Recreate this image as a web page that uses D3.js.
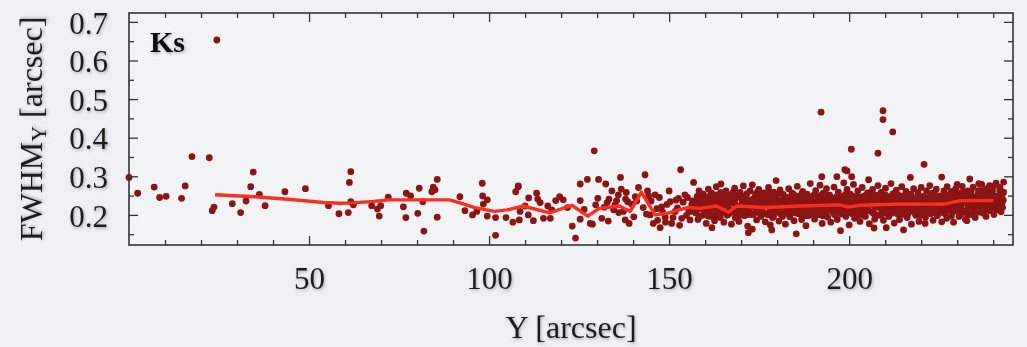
<!DOCTYPE html>
<html>
<head>
<meta charset="utf-8">
<script src="https://cdn.jsdelivr.net/npm/d3@7"></script>
<style>
  html, body { margin: 0; padding: 0; background: #eff0f3; }
  svg { display: block; font-family: "Liberation Serif", "Times New Roman", serif; }
</style>
</head>
<body>
<svg id="chart" width="1027" height="347"></svg>
<script>
// sparse points, Y < 108 arcsec
const sparsePoints = [
  [0, .297], [2.4, .256], [7.0, .272], [8.5, .245], [10.3, .248], [14.6, .243], [15.6, .275],
  [17.5, .351], [22.3, .348], [23.1, .211], [23.6, .220], [24.4, .653], [28.7, .229], [31.0, .206],
  [32.5, .236], [33.8, .273], [34.5, .311], [36.2, .253], [37.8, .224], [43.3, .260], [49.0, .268],
  [55.4, .224], [58.3, .203], [60.9, .206], [61.2, .284], [61.6, .312], [61.6, .234], [62.3, .226],
  [67.4, .224], [69.0, .215], [69.5, .197], [69.9, .224], [72.0, .246], [76.2, .221], [76.9, .193],
  [77.0, .256], [78.2, .249], [80.2, .204], [80.6, .269], [81.9, .158], [81.6, .234], [84.1, .260],
  [84.5, .272], [85.0, .265], [85.6, .292], [85.6, .194], [91.9, .247], [93.3, .211], [95.4, .200],
  [96.6, .209], [98.1, .282], [98.2, .249], [98.4, .228], [99.5, .239], [99.5, .197], [101.8, .193],
  [101.8, .147], [104.7, .193], [106.6, .181], [107.4, .260], [108.1, .273], [108.4, .187]
];

// medium density, 108 - 157 arcsec
const midPoints = [
  [108.1, .275], [110.0, .223], [108.6, .209], [110.9, .200], [112.3, .185], [113.2, .256], [113.5, .241],
  [115.1, .191], [116.3, .223], [117.4, .213], [118.5, .237], [120.6, .239], [123.1, .171], [124.0, .140],
  [125.3, .280], [125.3, .237], [125.3, .189], [127.3, .292], [129.2, .366], [128.1, .178], [128.7, .176],
  [130.4, .292], [130.2, .243], [131.3, .191], [132.4, .280], [132.0, .220], [133.1, .184], [134.1, .262],
  [133.3, .241], [135.0, .226], [135.9, .252], [136.5, .297], [136.7, .267], [137.3, .209], [137.8, .187],
  [138.5, .234], [138.9, .178], [140.6, .247], [141.5, .271], [143.3, .304], [144.3, .249], [144.7, .200],
  [145.6, .178], [146.1, .252], [147.5, .167], [147.9, .221], [148.9, .194], [150.3, .234], [150.7, .178],
  [151.7, .209], [152.6, .243], [153.2, .317], [153.5, .191], [154.4, .252], [155.4, .213], [156.3, .226],
  [156.8, .284], [155.8, .187], [132.8, .232], [134.6, .213], [136.0, .206], [137.9, .241], [139.6, .228],
  [140.2, .195], [141.0, .236], [142.8, .219], [143.7, .202], [145.0, .236], [146.6, .216], [147.3, .245],
  [148.2, .207], [149.4, .227], [150.0, .262], [151.1, .193], [151.9, .238], [152.3, .218], [153.9, .233],
  [154.8, .199], [155.1, .245], [156.0, .209], [156.5, .236], [144.0, .262], [146.8, .186], [149.0, .181],
  [152.9, .173], [138.1, .258], [135.4, .237], [129.6, .226], [126.4, .214], [121.8, .219], [119.6, .247],
  [114.2, .232], [111.0, .244], [117.0, .191]
];

// dense band, 157 - 243 arcsec
const densePoints = [
  [157.1, .231], [157.4, .205], [157.8, .248], [158.0, .188], [158.3, .262], [158.5, .219], [158.9, .236], [159.2, .199], [159.5, .254], [159.8, .212],
  [160.1, .243], [160.3, .178], [160.6, .226], [160.9, .267], [161.2, .208], [161.4, .238], [161.9, .167], [161.7, .196], [162.0, .252], [162.3, .221],
  [162.6, .185], [162.9, .241], [163.1, .273], [163.4, .214], [163.7, .197], [164.0, .233], [164.4, .280], [164.3, .258], [164.7, .206], [165.0, .244],
  [165.2, .181], [165.5, .227], [165.8, .262], [166.1, .199], [166.4, .238], [166.7, .215], [167.0, .251], [167.3, .176], [167.6, .231], [167.9, .207],
  [168.2, .269], [168.4, .192], [168.8, .245], [169.1, .222], [169.4, .183], [169.7, .258], [170.0, .211], [170.3, .236], [170.6, .275], [170.9, .198],
  [171.2, .249], [171.5, .226], [171.8, .171], [172.0, .154], [172.2, .214], [172.5, .262], [172.8, .239], [173.1, .163], [173.1, .278], [173.4, .202],
  [173.7, .228], [174.0, .254], [174.3, .187], [174.6, .218], [174.9, .266], [175.2, .241], [175.5, .196], [175.8, .231], [176.1, .207], [176.4, .257],
  [176.7, .182], [177.0, .224], [177.3, .248], [177.6, .271], [177.9, .209], [178.1, .174], [178.3, .236], [178.5, .161], [178.7, .193], [179.0, .259],
  [179.3, .216], [179.7, .289], [179.9, .243], [180.2, .228], [180.5, .184], [180.8, .265], [181.1, .201], [181.4, .237], [181.7, .253], [182.0, .212],
  [182.3, .176], [182.6, .246], [182.9, .224], [183.2, .268], [183.5, .195], [183.8, .232], [184.1, .257], [184.4, .207], [184.7, .185], [185.0, .240],
  [185.3, .151], [185.3, .219], [185.6, .274], [185.9, .203], [186.2, .249], [186.5, .229], [186.8, .188], [187.1, .261], [187.4, .215], [187.7, .238],
  [188.0, .172], [188.3, .254], [188.6, .198], [188.9, .226], [189.2, .281], [189.5, .244], [189.8, .209], [190.1, .235], [190.4, .189], [190.7, .263],
  [191.0, .218], [191.3, .247], [191.6, .201], [191.9, .277], [192.2, .466], [192.4, .299], [192.2, .230], [192.5, .178], [192.8, .256], [193.1, .212],
  [193.4, .239], [193.7, .268], [194.0, .194], [194.3, .224], [194.6, .251], [194.9, .181], [195.2, .234], [195.5, .207], [195.8, .272], [196.1, .243],
  [196.4, .216], [196.6, .299], [196.7, .188], [197.0, .259], [197.3, .229], [197.6, .159], [197.9, .202], [198.2, .248], [198.5, .283], [198.8, .317],
  [198.8, .221], [199.1, .196], [199.4, .314], [199.4, .266], [199.7, .237], [200.0, .174], [200.3, .254], [200.6, .370], [200.7, .299], [200.6, .211],
  [200.9, .232], [201.2, .279], [201.5, .191], [201.8, .245], [202.1, .223], [202.4, .262], [202.7, .205], [203.0, .183], [203.3, .238], [203.6, .271],
  [203.9, .214], [204.2, .249], [204.5, .196], [204.8, .229], [205.1, .257], [205.4, .291], [205.6, .177], [205.9, .241], [206.2, .208], [206.5, .266],
  [206.8, .225], [206.9, .166], [207.1, .189], [207.4, .251], [207.7, .234], [208.0, .360], [208.0, .276], [208.3, .199], [208.6, .218], [208.9, .258],
  [209.4, .470], [209.4, .447], [209.2, .243], [209.5, .186], [209.8, .228], [210.1, .269], [210.3, .167], [210.4, .211], [210.7, .247], [211.0, .196],
  [211.3, .236], [211.6, .281], [211.9, .217], [212.1, .415], [212.2, .255], [212.5, .179], [212.8, .229], [213.1, .264], [213.4, .202], [213.7, .241],
  [214.0, .188], [214.3, .222], [214.6, .273], [214.9, .249], [215.1, .161], [215.2, .208], [215.5, .236], [215.8, .261], [216.1, .193], [216.4, .227],
  [216.7, .254], [217.0, .297], [217.0, .212], [217.3, .176], [217.6, .244], [217.9, .268], [218.2, .219], [218.5, .199], [218.8, .238], [219.1, .258],
  [219.4, .183], [219.7, .226], [220.0, .271], [220.3, .207], [220.6, .248], [220.8, .331], [220.9, .232], [221.1, .178], [221.2, .194], [221.5, .262],
  [221.8, .217], [222.1, .241], [222.4, .276], [222.7, .203], [223.0, .229], [223.3, .186], [223.6, .253], [223.9, .221], [224.2, .267], [224.5, .198],
  [224.8, .236], [225.1, .249], [225.4, .211], [225.7, .298], [225.7, .182], [226.0, .227], [226.3, .262], [226.6, .205], [226.9, .243], [227.1, .191],
  [227.2, .273], [227.5, .219], [227.8, .234], [228.1, .256], [228.4, .197], [228.7, .224], [229.0, .181], [229.3, .248], [229.6, .268], [229.9, .212],
  [230.2, .239], [230.5, .196], [230.8, .257], [231.1, .226], [231.4, .274], [231.7, .208], [232.0, .243], [232.3, .188], [232.7, .185], [232.6, .231],
  [232.9, .262], [233.2, .219], [233.5, .293], [233.5, .251], [233.8, .201], [234.1, .236], [234.4, .272], [234.7, .214], [235.0, .193], [235.3, .246],
  [235.6, .228], [235.9, .263], [236.2, .207], [236.5, .241], [236.8, .279], [237.1, .219], [237.3, .204], [237.4, .254], [237.7, .232], [238.0, .196],
  [238.3, .268], [238.6, .224], [238.9, .247], [239.2, .211], [239.5, .259], [239.8, .238], [240.1, .274], [240.4, .221], [240.8, .282], [241.0, .213],
  [241.2, .249], [241.5, .232], [241.8, .264], [242.1, .227], [242.4, .243], [242.7, .256], [242.9, .285], [242.6, .219], [242.2, .208], [242.8, .238]
];

// core of the dense band
const corePoints = [
  [157.6, .226], [158.7, .241], [159.6, .233], [160.4, .214], [161.3, .249], [162.1, .231], [163.0, .208], [163.9, .246], [164.9, .224], [165.7, .238],
  [166.6, .202], [167.5, .244], [168.3, .229], [169.3, .209], [170.2, .248], [171.0, .233], [171.9, .201], [172.9, .226], [173.9, .245], [174.8, .206],
  [175.7, .218], [176.6, .239], [177.5, .201], [178.4, .249], [179.4, .229], [180.3, .207], [181.2, .222], [182.1, .232], [183.0, .206], [183.9, .245],
  [184.8, .226], [185.7, .244], [186.6, .209], [187.5, .198], [188.4, .237], [189.3, .216], [190.2, .251], [191.1, .231], [192.0, .206], [192.9, .243],
  [193.8, .209], [194.7, .238], [195.6, .221], [196.5, .246], [197.4, .214], [198.3, .233], [199.2, .248], [200.1, .219], [201.0, .204], [201.9, .233],
  [202.8, .246], [203.7, .224], [204.6, .211], [205.5, .238], [206.4, .229], [207.3, .201], [208.2, .236], [209.1, .212], [210.0, .252], [210.9, .226],
  [211.8, .204], [212.7, .244], [213.6, .223], [214.5, .238], [215.4, .201], [216.3, .246], [217.2, .229], [218.1, .206], [219.0, .219], [219.9, .241],
  [220.8, .215], [221.7, .233], [222.6, .252], [223.5, .207], [224.4, .236], [225.3, .224], [226.2, .246], [227.1, .211], [228.0, .242], [228.9, .208],
  [229.8, .229], [230.7, .213], [231.6, .249], [232.5, .209], [233.4, .226], [234.3, .247], [235.2, .221], [236.1, .232], [237.0, .244], [237.9, .213],
  [238.8, .233], [239.7, .224], [240.6, .248], [241.5, .217], [242.4, .229], [160.8, .197], [166.0, .254], [170.8, .218], [175.0, .228], [179.0, .196],
  [184.3, .214], [188.8, .248], [193.3, .198], [197.8, .241], [202.3, .199], [206.0, .252], [210.6, .236], [214.8, .212], [219.8, .199], [223.9, .245],
  [228.4, .231], [233.0, .201], [236.9, .226], [240.2, .201], [158.2, .215], [163.5, .228], [168.6, .206], [173.3, .241], [178.8, .223], [182.8, .241],
  [187.9, .223], [192.6, .219], [196.9, .227], [201.6, .217], [205.0, .221], [209.9, .205], [213.9, .209], [218.4, .243], [222.3, .223], [226.7, .233],
  [231.2, .203], [235.8, .211], [239.4, .245]
];

// extra fill inside the band
const fillPoints = [
  [157.3, .218], [157.9, .237], [158.4, .196], [158.8, .253], [159.3, .222], [159.9, .241], [160.5, .203], [160.9, .231], [161.5, .218], [161.8, .257],
  [162.4, .236], [162.8, .201], [163.3, .252], [163.8, .219], [164.2, .193], [164.6, .239], [165.1, .209], [165.6, .249], [166.2, .226], [166.9, .237],
  [167.2, .212], [167.8, .259], [168.1, .236], [168.7, .218], [169.2, .251], [169.6, .199], [170.1, .226], [170.5, .241], [171.1, .209], [171.6, .255],
  [172.1, .238], [172.6, .219], [173.0, .201], [173.6, .232], [174.2, .214], [174.5, .259], [175.1, .249], [175.4, .211], [176.0, .222], [176.3, .246],
  [176.9, .202], [177.4, .233], [177.8, .256], [178.2, .213], [178.9, .241], [179.6, .207], [180.0, .254], [180.6, .236], [181.0, .214], [181.5, .196],
  [181.9, .246], [182.4, .219], [182.9, .204], [183.3, .241], [183.7, .221], [184.2, .236], [184.6, .253], [185.1, .205], [185.5, .233], [186.0, .219],
  [186.4, .239], [186.9, .255], [187.3, .226], [187.8, .206], [188.2, .243], [188.7, .214], [189.1, .233], [189.6, .201], [190.0, .222], [190.5, .246],
  [190.9, .205], [191.4, .226], [191.8, .238], [192.3, .251], [192.7, .198], [193.2, .227], [193.6, .251], [194.1, .213], [194.5, .236], [195.0, .244],
  [195.4, .219], [195.9, .201], [196.3, .232], [196.8, .249], [197.2, .206], [197.7, .223], [198.1, .211], [198.6, .237], [199.0, .253], [199.5, .209],
  [199.9, .241], [200.4, .228], [200.8, .203], [201.3, .248], [201.7, .229], [202.2, .211], [202.6, .241], [203.1, .226], [203.5, .201], [204.0, .236],
  [204.4, .222], [204.9, .246], [205.3, .211], [205.8, .228], [206.2, .239], [206.7, .204], [207.2, .219], [207.6, .243], [208.1, .226], [208.5, .252],
  [209.0, .201], [209.6, .233], [210.0, .219], [210.5, .243], [210.9, .207], [211.4, .224], [211.8, .248], [212.3, .213], [212.7, .236], [213.2, .219],
  [213.6, .251], [214.1, .231], [214.5, .203], [215.0, .226], [215.4, .247], [215.9, .216], [216.3, .202], [216.8, .236], [217.2, .253], [217.7, .222],
  [218.1, .231], [218.6, .209], [219.0, .246], [219.5, .235], [220.0, .214], [220.4, .229], [220.9, .201], [221.3, .244], [221.8, .231], [222.2, .209],
  [222.7, .239], [223.1, .256], [223.6, .214], [224.0, .231], [224.5, .249], [224.9, .206], [225.4, .237], [225.8, .221], [226.3, .204], [226.7, .252],
  [227.2, .231], [227.6, .246], [228.1, .214], [228.5, .261], [229.0, .236], [229.4, .219], [229.9, .253], [230.3, .226], [230.8, .241], [231.2, .216],
  [231.7, .259], [232.1, .233], [232.6, .249], [233.0, .217], [233.5, .238], [233.9, .261], [234.4, .226], [234.8, .244], [235.3, .209], [235.7, .252],
  [236.2, .236], [236.6, .221], [237.1, .263], [237.5, .241], [238.0, .226], [238.4, .252], [238.9, .216], [239.3, .236], [239.8, .261], [240.2, .229],
  [240.7, .246], [241.1, .236], [241.6, .219], [242.0, .251], [242.5, .236], [242.9, .259], [241.9, .271], [239.0, .276], [236.0, .281], [230.0, .279]
];

// running median line
const trendX = [23.9, 35, 45, 54, 58.6, 62, 68, 72, 80, 89, 92.4, 96, 101.5, 105, 109.5, 116.8, 123, 127.4, 130.6, 136.2, 139.2, 142.3, 146.1, 149.5, 155, 158.6, 163.2, 166.5, 168.8, 177, 186.4, 197.5, 199.8, 203.1, 214.2, 226.2, 230.8, 240.1];
const trendY = [.252, .247, .240, .232, .230, .231, .235, .239, .239, .239, .230, .219, .209, .213, .223, .205, .225, .197, .217, .223, .209, .259, .200, .204, .219, .217, .223, .207, .223, .219, .223, .226, .220, .225, .228, .228, .237, .237];

const xMajor = [50, 100, 150, 200];
const xMinor = [10, 20, 30, 40, 60, 70, 80, 90, 110, 120, 130, 140, 160, 170, 180, 190, 210, 220, 230, 240];
const yMajor = [0.2, 0.3, 0.4, 0.5, 0.6, 0.7];
const yMinor = [0.15, 0.25, 0.35, 0.45, 0.55, 0.65];

const plotLeft = 129, plotRight = 1013, plotTop = 13, plotBottom = 245;

const svg = d3.select('#chart');

const defs = svg.append('defs');
const shadow = defs.append('filter').attr('id', 'soft').attr('x', '-20%').attr('y', '-20%').attr('width', '140%').attr('height', '140%');
shadow.append('feDropShadow').attr('dx', 1).attr('dy', 1.5).attr('stdDeviation', 1.6)
  .attr('flood-color', '#000').attr('flood-opacity', 0.3);

const x = d3.scaleLinear().domain([0, 245.5]).range([plotLeft, plotRight]);
const y = d3.scaleLinear().domain([0.122, 0.723]).range([plotBottom, plotTop]);

svg.append('rect')
  .attr('x', plotLeft).attr('y', plotTop)
  .attr('width', plotRight - plotLeft).attr('height', plotBottom - plotTop)
  .attr('fill', '#f2f3f5');

// Draw points
const allPoints = sparsePoints.concat(midPoints, densePoints, corePoints, fillPoints);
svg.append('g')
  .selectAll('circle')
  .data(allPoints)
  .join('circle')
  .attr('cx', d => x(d[0]))
  .attr('cy', d => y(d[1]))
  .attr('r', 3.4)
  .attr('fill', '#8b1414');

// Trend line
const line = d3.line()
  .x((d, i) => x(trendX[i]))
  .y(d => y(d));

svg.append('path')
  .datum(trendY)
  .attr('fill', 'none')
  .attr('stroke', '#fb2f1f')
  .attr('stroke-width', 3.4)
  .attr('stroke-linejoin', 'round')
  .attr('d', line);

// Axes, ticks pointing inward on all four sides
function styleAxis(g) {
  g.select('.domain').remove();
  g.selectAll('.tick line').attr('stroke', '#333').attr('stroke-width', 1.3);
  g.attr('font-family', null).attr('font-size', 31);
  g.selectAll('.tick text').attr('fill', '#1c1c1c').attr('filter', 'url(#soft)');
}

svg.append('g').attr('transform', `translate(0,${plotBottom})`)
  .call(d3.axisBottom(x).tickValues(xMajor).tickSize(-9).tickPadding(22).tickFormat(d3.format('d')))
  .call(styleAxis);
svg.append('g').attr('transform', `translate(0,${plotBottom})`)
  .call(d3.axisBottom(x).tickValues(xMinor).tickSize(-5).tickFormat(''))
  .call(styleAxis);
svg.append('g').attr('transform', `translate(0,${plotTop})`)
  .call(d3.axisTop(x).tickValues(xMajor).tickSize(-9).tickFormat(''))
  .call(styleAxis);
svg.append('g').attr('transform', `translate(0,${plotTop})`)
  .call(d3.axisTop(x).tickValues(xMinor).tickSize(-5).tickFormat(''))
  .call(styleAxis);

const yAxisG = svg.append('g').attr('transform', `translate(${plotLeft},0)`)
  .call(d3.axisLeft(y).tickValues(yMajor).tickSize(-9).tickPadding(21).tickFormat(d3.format('.1f')))
  .call(styleAxis);
yAxisG.selectAll('.tick text').attr('dy', '0.36em');
svg.append('g').attr('transform', `translate(${plotLeft},0)`)
  .call(d3.axisLeft(y).tickValues(yMinor).tickSize(-5).tickFormat(''))
  .call(styleAxis);
svg.append('g').attr('transform', `translate(${plotRight},0)`)
  .call(d3.axisRight(y).tickValues(yMajor).tickSize(-9).tickFormat(''))
  .call(styleAxis);
svg.append('g').attr('transform', `translate(${plotRight},0)`)
  .call(d3.axisRight(y).tickValues(yMinor).tickSize(-5).tickFormat(''))
  .call(styleAxis);

// Frame
svg.append('rect')
  .attr('x', plotLeft).attr('y', plotTop)
  .attr('width', plotRight - plotLeft).attr('height', plotBottom - plotTop)
  .attr('fill', 'none')
  .attr('stroke', '#333')
  .attr('stroke-width', 1.6);

// Band label
svg.append('text')
  .attr('x', 150).attr('y', 52)
  .attr('font-size', 30).attr('font-weight', 'bold')
  .attr('fill', '#111').attr('filter', 'url(#soft)')
  .text('Ks');

// Axis titles
svg.append('text')
  .attr('x', (plotLeft + plotRight) / 2).attr('y', 338)
  .attr('text-anchor', 'middle')
  .attr('font-size', 32).attr('fill', '#1c1c1c').attr('filter', 'url(#soft)')
  .text('Y [arcsec]');

const yTitle = svg.append('text')
  .attr('transform', `translate(42,${(plotTop + plotBottom) / 2}) rotate(-90)`)
  .attr('text-anchor', 'middle')
  .attr('font-size', 32).attr('fill', '#1c1c1c').attr('filter', 'url(#soft)');
yTitle.append('tspan').text('FWHM');
yTitle.append('tspan').attr('font-size', 22).attr('dy', 4).text('Y');
yTitle.append('tspan').attr('dy', -4).text(' [arcsec]');
</script>
</body>
</html>
